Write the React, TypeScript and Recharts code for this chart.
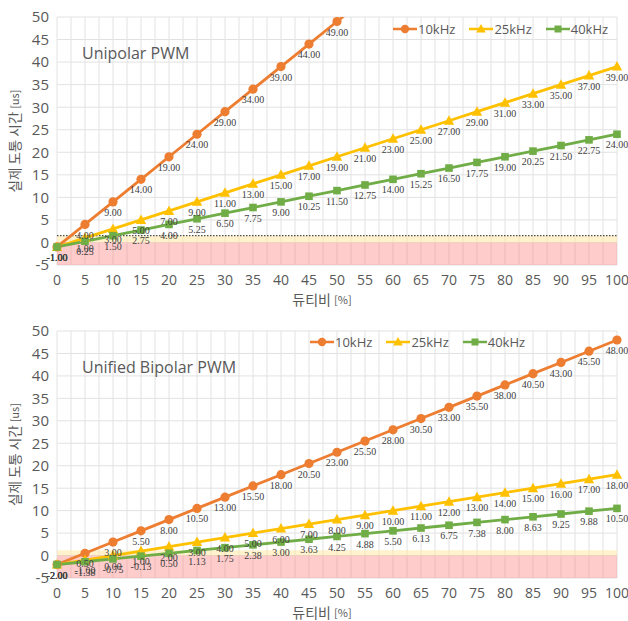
import React from 'react';
import { LineChart, Line, XAxis, YAxis, CartesianGrid, ReferenceArea, ReferenceLine, LabelList, Label } from 'recharts';

const duty = [0, 5, 10, 15, 20, 25, 30, 35, 40, 45, 50, 55, 60, 65, 70, 75, 80, 85, 90, 95, 100];
// minor vertical gridlines every 2.5, labels only every 5
const xTicks = [0, 2.5, 5, 7.5, 10, 12.5, 15, 17.5, 20, 22.5, 25, 27.5, 30, 32.5, 35, 37.5, 40, 42.5, 45, 47.5, 50,
  52.5, 55, 57.5, 60, 62.5, 65, 67.5, 70, 72.5, 75, 77.5, 80, 82.5, 85, 87.5, 90, 92.5, 95, 97.5, 100];
const yTicks = [-5, 0, 5, 10, 15, 20, 25, 30, 35, 40, 45, 50];

// Unipolar PWM (10kHz runs past the top of the axis after 50%)
const uni10k = [-1, 4, 9, 14, 19, 24, 29, 34, 39, 44, 49, 54, 59, 64, 69, 74, 79, 84, 89, 94, 99];
const uni25k = [-1, 1, 3, 5, 7, 9, 11, 13, 15, 17, 19, 21, 23, 25, 27, 29, 31, 33, 35, 37, 39];
const uni40k = [-1, 0.25, 1.5, 2.75, 4, 5.25, 6.5, 7.75, 9, 10.25, 11.5, 12.75, 14, 15.25, 16.5, 17.75, 19, 20.25, 21.5, 22.75, 24];

// Unified Bipolar PWM
const bi10k = [-2, 0.5, 3, 5.5, 8, 10.5, 13, 15.5, 18, 20.5, 23, 25.5, 28, 30.5, 33, 35.5, 38, 40.5, 43, 45.5, 48];
const bi25k = [-2, -1, 0, 1, 2, 3, 4, 5, 6, 7, 8, 9, 10, 11, 12, 13, 14, 15, 16, 17, 18];
const bi40k = [-2, -1.38, -0.75, -0.13, 0.5, 1.13, 1.75, 2.38, 3, 3.63, 4.25, 4.88, 5.5, 6.13, 6.75, 7.38, 8, 8.63, 9.25, 9.88, 10.5];

const seriesNames = ['10kHz', '25kHz', '40kHz'];

const COLORS = {
  k10: '#ed7d31',
  k25: '#ffc000',
  k40: '#70ad47',
};

const TEXT = '#595959';
const SANS = "'Open Sans', 'Noto Sans CJK KR', sans-serif";
const KR = "'Noto Sans CJK KR', 'Open Sans', sans-serif";
const SERIF = "'Liberation Serif', 'DejaVu Serif', serif";

function buildRows(a: number[], b: number[], c: number[]) {
  return duty.map((d, i) => ({ duty: d, k10: a[i], k25: b[i], k40: c[i] }));
}

function circleDot(props: any) {
  const { cx, cy, index } = props;
  if (cx == null || cy == null) return <g key={`c${index}`} />;
  return <circle key={`c${index}`} cx={cx} cy={cy} r={4.6} fill={COLORS.k10} />;
}

function triangleDot(props: any) {
  const { cx, cy, index } = props;
  if (cx == null || cy == null) return <g key={`t${index}`} />;
  return (
    <polygon
      key={`t${index}`}
      points={`${cx},${cy - 5.5} ${cx + 5.2},${cy + 4} ${cx - 5.2},${cy + 4}`}
      fill={COLORS.k25}
    />
  );
}

function squareDot(props: any) {
  const { cx, cy, index } = props;
  if (cx == null || cy == null) return <g key={`s${index}`} />;
  return <rect key={`s${index}`} x={cx - 3.8} y={cy - 3.8} width={7.6} height={7.6} fill={COLORS.k40} />;
}

function fmt(v: any) {
  if (typeof v !== 'number' || v > 50) return '';
  return v.toFixed(2);
}

function YLabel({ viewBox }: any) {
  const x = viewBox.x + 14;
  const y = viewBox.y + viewBox.height / 2;
  return (
    <text x={x} y={y} transform={`rotate(-90, ${x}, ${y})`} textAnchor="middle" dominantBaseline="central" fill={TEXT} fontFamily={KR}>
      <tspan fontSize={13.5}>실제 도통 시간 </tspan>
      <tspan fontSize={11}>[us]</tspan>
    </text>
  );
}

function XLabel({ viewBox }: any) {
  const x = viewBox.x + viewBox.width / 2 - 15;
  const y = viewBox.y + 34;
  return (
    <text x={x} y={y} textAnchor="middle" dominantBaseline="central" fill={TEXT} fontFamily={KR}>
      <tspan fontSize={14}>듀티비 </tspan>
      <tspan fontSize={11}>[%]</tspan>
    </text>
  );
}

function LegendIcon({ idx }: { idx: number }) {
  const color = [COLORS.k10, COLORS.k25, COLORS.k40][idx];
  return (
    <svg width={24} height={12} style={{ display: 'block' }}>
      <line x1={0} y1={6} x2={24} y2={6} stroke={color} strokeWidth={2.5} />
      {idx === 0 && <circle cx={12} cy={6} r={4.2} fill={color} />}
      {idx === 1 && <polygon points="12,1 16.8,9.5 7.2,9.5" fill={color} />}
      {idx === 2 && <rect x={8.5} y={2.5} width={7} height={7} fill={color} />}
    </svg>
  );
}

function ChartLegend({ left, top }: { left: number; top: number }) {
  return (
    <div style={{ position: 'absolute', left, top, display: 'flex', alignItems: 'center', fontFamily: SANS, fontSize: 13, color: TEXT }}>
      {seriesNames.map((n, i) => (
        <div key={n} style={{ display: 'flex', alignItems: 'center', marginRight: 14 }}>
          <LegendIcon idx={i} />
          <span style={{ marginLeft: 1 }}>{n}</span>
        </div>
      ))}
    </div>
  );
}

interface PanelProps {
  rows: { duty: number; k10: number; k25: number; k40: number }[];
  title: string;
  height: number;
  marginTop: number;
  xAxisHeight: number;
  bandTop: number;
  dotted?: number;
  legendLeft: number;
  legendTop: number;
  titleTop: number;
}

function Panel({ rows, title, height, marginTop, xAxisHeight, bandTop, dotted, legendLeft, legendTop, titleTop }: PanelProps) {
  const labelProps = { position: 'bottom' as const, offset: 7, fontSize: 10, fill: '#404040', fontFamily: SERIF, formatter: fmt };
  return (
    <div style={{ position: 'relative', width: 628, height }}>
      <LineChart width={628} height={height} data={rows} margin={{ top: marginTop, right: 11, bottom: 0, left: 0 }}>
        <CartesianGrid stroke="#e2e2e2" strokeWidth={1} />
        <ReferenceArea y1={-5} y2={0} fill="#ff8080" fillOpacity={0.4} stroke="none" ifOverflow="hidden" />
        <ReferenceArea y1={0} y2={bandTop} fill="#ffe699" fillOpacity={0.5} stroke="none" />
        {dotted != null && <ReferenceLine y={dotted} stroke="#222" strokeWidth={1} strokeDasharray="1.5 1.5" />}
        <XAxis
          type="number"
          dataKey="duty"
          domain={[0, 100]}
          ticks={xTicks}
          interval={0}
          tickFormatter={(v: number) => (v % 5 === 0 ? String(v) : '')}
          tick={{ fontSize: 14, fill: TEXT, fontFamily: SANS }}
          tickLine={false}
          axisLine={false}
          tickMargin={4}
          height={xAxisHeight}
        >
          <Label content={<XLabel />} />
        </XAxis>
        <YAxis
          type="number"
          domain={[-5, 50]}
          ticks={yTicks}
          interval={0}
          allowDataOverflow
          tick={{ fontSize: 15, fill: TEXT, fontFamily: SANS }}
          tickLine={false}
          axisLine={false}
          width={57}
        >
          <Label content={<YLabel />} />
        </YAxis>
        <Line dataKey="k10" name="10kHz" stroke={COLORS.k10} strokeWidth={2.8} dot={circleDot} activeDot={false} isAnimationActive={false}>
          <LabelList dataKey="k10" {...labelProps} />
        </Line>
        <Line dataKey="k25" name="25kHz" stroke={COLORS.k25} strokeWidth={2.8} dot={triangleDot} activeDot={false} isAnimationActive={false}>
          <LabelList dataKey="k25" {...labelProps} />
        </Line>
        <Line dataKey="k40" name="40kHz" stroke={COLORS.k40} strokeWidth={2.8} dot={squareDot} activeDot={false} isAnimationActive={false}>
          <LabelList dataKey="k40" {...labelProps} />
        </Line>
      </LineChart>
      <div style={{ position: 'absolute', left: 82, top: titleTop, fontFamily: SANS, fontSize: 16, color: TEXT, lineHeight: '22px' }}>
        {title}
      </div>
      <ChartLegend left={legendLeft} top={legendTop} />
    </div>
  );
}

export default function App() {
  return (
    <div style={{ position: 'absolute', left: 0, top: 0, width: 628, height: 621, background: '#fff' }}>
      <Panel
        rows={buildRows(uni10k, uni25k, uni40k)}
        title="Unipolar PWM"
        height={310}
        marginTop={17}
        xAxisHeight={45}
        bandTop={1.5}
        dotted={1.5}
        legendLeft={393}
        legendTop={20}
        titleTop={42}
      />
      <Panel
        rows={buildRows(bi10k, bi25k, bi40k)}
        title="Unified Bipolar PWM"
        height={311}
        marginTop={21}
        xAxisHeight={43}
        bandTop={1.2}
        legendLeft={310}
        legendTop={23}
        titleTop={46}
      />
    </div>
  );
}
